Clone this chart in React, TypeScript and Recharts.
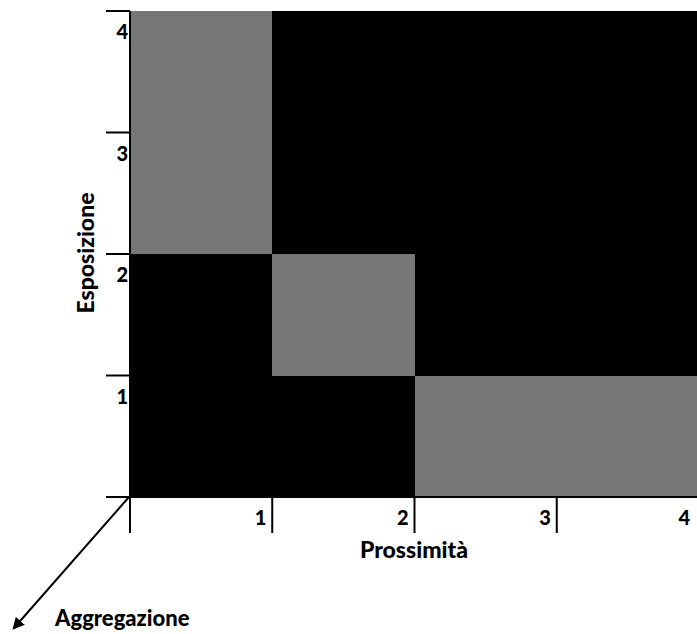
import { ComposedChart, XAxis, YAxis, ReferenceArea, Label } from "recharts";

// assi 0..4
const X_TICKS = [0, 1, 2, 3, 4];
const Y_TICKS = [0, 1, 2, 3, 4];

// livelli delle celle, riga per riga dal basso (Esposizione 0-1, 1-2, 2-3, 3-4)
// colonne: Prossimità 0-1, 1-2, 2-3, 3-4
const ROW_E1 = ["nero", "nero", "grigio", "grigio"];
const ROW_E2 = ["nero", "grigio", "nero", "nero"];
const ROW_E3 = ["grigio", "nero", "nero", "nero"];
const ROW_E4 = ["grigio", "nero", "nero", "nero"];
const ROWS = [ROW_E1, ROW_E2, ROW_E3, ROW_E4];

const COLORS: Record<string, string> = {
  nero: "#000000",
  grigio: "#767676",
};

const FONT = "Lato, 'Open Sans', sans-serif";

function YTick(props: any) {
  const { x, y, payload } = props;
  if (payload.value === 0) return null;
  return (
    <text x={x + 22} y={y + 28} textAnchor="end" fontFamily={FONT} fontWeight={900} fontSize={20} fill="#000">
      {payload.value}
    </text>
  );
}

function XTick(props: any) {
  const { x, y, payload } = props;
  if (payload.value === 0) return null;
  return (
    <text x={x - 6} y={y - 8} textAnchor="end" fontFamily={FONT} fontWeight={900} fontSize={20} fill="#000">
      {payload.value}
    </text>
  );
}

export default function App() {
  const cells = ROWS.flatMap((row, yi) =>
    row.map((level, xi) => ({ key: `${xi}-${yi}`, x1: xi, x2: xi + 1, y1: yi, y2: yi + 1, fill: COLORS[level] }))
  );

  return (
    <div style={{ position: "absolute", left: 0, top: 0, width: 697, height: 634, overflow: "hidden", background: "#fff" }}>
      <ComposedChart width={700} height={634} data={[]} margin={{ top: 11, right: 1, bottom: 97, left: 70 }}>
        <XAxis
          type="number"
          dataKey="x"
          domain={[0, 4]}
          ticks={X_TICKS}
          allowDataOverflow
          height={40}
          tickSize={36}
          tickMargin={0}
          axisLine={{ stroke: "#000", strokeWidth: 2 }}
          tickLine={{ stroke: "#000", strokeWidth: 2 }}
          tick={<XTick />}
        >
          <Label
            content={() => (
              <text x={414} y={558} textAnchor="middle" fontFamily={FONT} fontWeight={900} fontSize={23} fill="#000">
                Prossimità
              </text>
            )}
          />
        </XAxis>
        <YAxis
          type="number"
          dataKey="y"
          domain={[0, 4]}
          ticks={Y_TICKS}
          allowDataOverflow
          width={60}
          tickSize={24}
          tickMargin={0}
          axisLine={{ stroke: "#000", strokeWidth: 2 }}
          tickLine={{ stroke: "#000", strokeWidth: 2 }}
          tick={<YTick />}
        >
          <Label
            content={() => (
              <text
                x={94}
                y={253}
                transform="rotate(-90 94 253)"
                textAnchor="middle"
                fontFamily={FONT}
                fontWeight={900}
                fontSize={23}
                fill="#000"
              >
                Esposizione
              </text>
            )}
          />
        </YAxis>
        {cells.map((c) => (
          <ReferenceArea
            key={c.key}
            x1={c.x1}
            x2={c.x2}
            y1={c.y1}
            y2={c.y2}
            fill={c.fill}
            fillOpacity={1}
            stroke="none"
            shapeRendering="crispEdges"
            ifOverflow="visible"
          />
        ))}
      </ComposedChart>
      <svg width={697} height={634} style={{ position: "absolute", left: 0, top: 0, pointerEvents: "none" }}>
        <defs>
          <marker id="freccia" viewBox="0 0 10 10" refX="8" refY="5" markerWidth="6" markerHeight="6" orient="auto">
            <path d="M0,0 L10,5 L0,10 z" fill="#000" />
          </marker>
        </defs>
        <line x1={129} y1={497} x2={14} y2={628} stroke="#000" strokeWidth={2} markerEnd="url(#freccia)" />
        <text x={55} y={626} fontFamily={FONT} fontWeight={900} fontSize={22} fill="#000">
          Aggregazione
        </text>
      </svg>
    </div>
  );
}
